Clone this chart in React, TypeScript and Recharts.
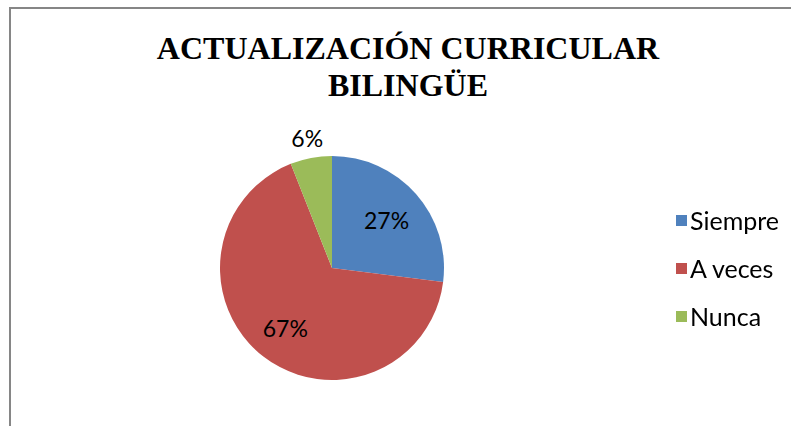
import { PieChart, Pie, Cell, Legend } from 'recharts';

const categories = ['Siempre', 'A veces', 'Nunca'];
const percentages = [27, 67, 6];
const sliceColors = ['#4F81BD', '#C0504D', '#9BBB59'];

const data = categories.map((name, i) => ({ name, value: percentages[i] }));

const RAD = Math.PI / 180;

const renderLabel = (props: any) => {
  const { cx, cy, midAngle, outerRadius, value } = props;
  // small slices get their label outside the pie, like the original
  const ratio = value < 10 ? 1.18 : value > 50 ? 0.68 : 0.65;
  const r = outerRadius * ratio;
  const x = cx + r * Math.cos(-midAngle * RAD);
  const y = cy + r * Math.sin(-midAngle * RAD);
  return (
    <text
      x={x}
      y={y}
      textAnchor="middle"
      dominantBaseline="central"
      fill="#000"
      style={{ fontFamily: 'Lato', fontSize: 23 }}
    >
      {`${value}%`}
    </text>
  );
};

const renderLegend = (props: any) => {
  const payload = [...(props.payload || [])].sort(
    (a: any, b: any) => categories.indexOf(a.value) - categories.indexOf(b.value)
  );
  return (
    <div>
      {payload.map((entry: any, i: number) => (
        <div
          key={`leg-${i}`}
          style={{ display: 'flex', alignItems: 'center', height: 48 }}
        >
          <span
            style={{
              display: 'inline-block',
              width: 11,
              height: 11,
              background: entry.color,
              marginRight: 3,
            }}
          />
          <span style={{ fontFamily: 'Lato', fontSize: 25, color: '#000' }}>{entry.value}</span>
        </div>
      ))}
    </div>
  );
};

const App = () => {
  return (
    <div style={{ position: 'fixed', left: 0, top: 0, width: 791, height: 426, background: '#fff' }}>
      <div
        style={{
          position: 'absolute',
          left: 9,
          top: 7,
          width: 782,
          height: 419,
          borderLeft: '2px solid #868686',
          borderTop: '2px solid #868686',
        }}
      />
      <div
        style={{
          position: 'absolute',
          left: 0,
          top: 30,
          width: 816,
          textAlign: 'center',
          fontFamily: 'Liberation Serif',
          fontWeight: 'bold',
          fontSize: 32,
          lineHeight: '37px',
          color: '#000',
        }}
      >
        ACTUALIZACIÓN CURRICULAR
        <br />
        BILINGÜE
      </div>
      <div style={{ position: 'absolute', left: 0, top: 0 }}>
        <PieChart width={791} height={426} margin={{ top: 0, right: 0, bottom: 0, left: 0 }}>
          <Pie
            data={data}
            dataKey="value"
            nameKey="name"
            cx={332}
            cy={268}
            outerRadius={112}
            startAngle={90}
            endAngle={-270}
            stroke="none"
            labelLine={false}
            label={renderLabel}
            isAnimationActive={false}
          >
            {data.map((entry, index) => (
              <Cell key={`cell-${index}`} fill={sliceColors[index]} />
            ))}
          </Pie>
          <Legend
            layout="vertical"
            content={renderLegend}
            wrapperStyle={{ position: 'absolute', left: 676, top: 196, width: 120 }}
          />
        </PieChart>
      </div>
    </div>
  );
};

export default App;
